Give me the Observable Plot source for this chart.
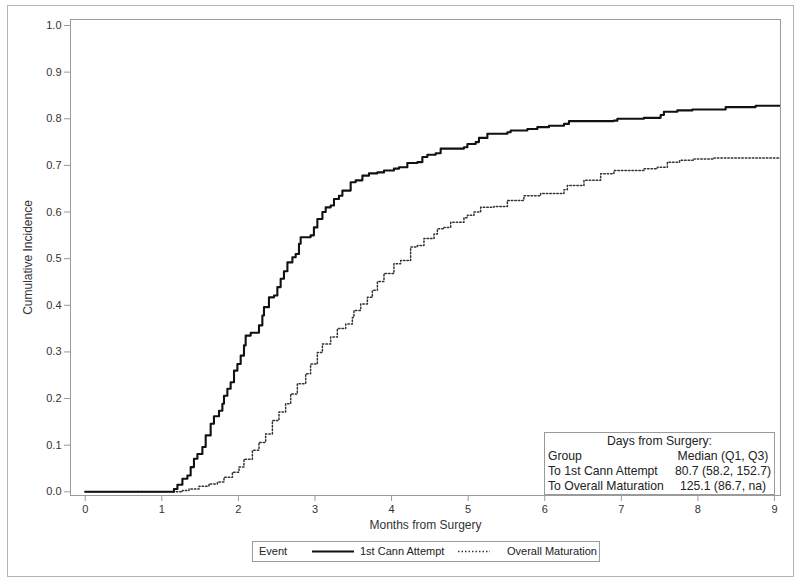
<!DOCTYPE html>
<html>
<head>
<meta charset="utf-8">
<script src="https://cdn.jsdelivr.net/npm/d3@7"></script>
<script src="https://cdn.jsdelivr.net/npm/@observablehq/plot@0.6"></script>
<style>
  body { margin: 0; background: #fff; font-family: "Liberation Sans", Arial, sans-serif; }
  #wrap { position: relative; width: 800px; height: 584px; overflow: hidden; }
  #outer { position: absolute; left: 7px; top: 5px; width: 787px; height: 572px; border: 1px solid #b4b4b4; box-sizing: border-box; }
  #chart { position: absolute; left: 0; top: 0; }
  #table { position: absolute; left: 544px; top: 432px; width: 231px; height: 63px; border: 1px solid #9a9a9a; box-sizing: border-box; background: #fff; font-size: 12.2px; color: #222; }
  #table .r { position: absolute; left: 0; width: 100%; height: 15px; line-height: 15px; white-space: nowrap; }
  #table .l { position: absolute; left: 3px; }
  #table .v { position: absolute; left: 178px; transform: translateX(-50%); }
  #legend { position: absolute; left: 252px; top: 541px; width: 348px; height: 21px; border: 1px solid #9a9a9a; box-sizing: border-box; font-size: 11px; color: #222; }
  #legend span { position: absolute; top: 3px; white-space: nowrap; }
  #legend svg { position: absolute; top: 0; left: 0; }
</style>
</head>
<body>
<div id="wrap">
  <div id="outer"></div>
  <div id="chart"></div>
  <div id="table"></div>
  <div id="legend"></div>
</div>
<script>
// ---- data ----
const seriesNames = ["1st Cann Attempt", "Overall Maturation"];

const cannMonths = [0, 1.116, 1.159, 1.204, 1.269, 1.334, 1.377, 1.420, 1.465, 1.530, 1.573, 1.638, 1.681, 1.747, 1.791, 1.812, 1.856, 1.899, 1.943, 1.987, 2.030, 2.073, 2.095, 2.161, 2.269, 2.313, 2.334, 2.399, 2.465, 2.509, 2.552, 2.595, 2.640, 2.705, 2.748, 2.791, 2.813, 2.943, 2.986, 3.031, 3.097, 3.140, 3.205, 3.248, 3.313, 3.358, 3.466, 3.531, 3.619, 3.705, 3.815, 3.901, 4.031, 4.097, 4.206, 4.337, 4.402, 4.467, 4.576, 4.641, 4.945, 4.990, 5.098, 5.141, 5.251, 5.512, 5.555, 5.773, 5.903, 6.055, 6.251, 6.316, 6.903, 6.948, 7.295, 7.513, 7.556, 7.731, 7.927, 8.362, 8.753, 9.078];
const cannCI = [0, 0, 0.006, 0.015, 0.028, 0.035, 0.053, 0.071, 0.081, 0.096, 0.121, 0.146, 0.162, 0.174, 0.189, 0.206, 0.221, 0.235, 0.260, 0.274, 0.292, 0.314, 0.335, 0.341, 0.357, 0.378, 0.396, 0.417, 0.421, 0.439, 0.457, 0.473, 0.492, 0.503, 0.510, 0.532, 0.546, 0.550, 0.567, 0.585, 0.600, 0.610, 0.614, 0.628, 0.635, 0.646, 0.664, 0.668, 0.678, 0.683, 0.685, 0.689, 0.693, 0.696, 0.705, 0.707, 0.718, 0.723, 0.726, 0.736, 0.739, 0.746, 0.750, 0.759, 0.768, 0.771, 0.775, 0.778, 0.782, 0.785, 0.789, 0.795, 0.796, 0.800, 0.802, 0.808, 0.815, 0.818, 0.820, 0.825, 0.828, 0.828];

const matMonths = [0, 1.116, 1.269, 1.355, 1.486, 1.616, 1.726, 1.812, 1.922, 2.008, 2.073, 2.183, 2.269, 2.356, 2.444, 2.530, 2.617, 2.683, 2.770, 2.879, 2.943, 3.031, 3.097, 3.205, 3.292, 3.401, 3.488, 3.509, 3.597, 3.684, 3.749, 3.815, 3.901, 4.031, 4.119, 4.249, 4.337, 4.423, 4.554, 4.598, 4.684, 4.772, 4.945, 4.990, 5.076, 5.163, 5.337, 5.512, 5.728, 5.946, 6.251, 6.295, 6.512, 6.730, 6.903, 7.295, 7.470, 7.601, 7.760, 7.948, 8.209, 9.078];
const matCI = [0, 0, 0.003, 0.006, 0.012, 0.017, 0.021, 0.031, 0.042, 0.053, 0.070, 0.089, 0.106, 0.124, 0.153, 0.171, 0.189, 0.210, 0.232, 0.253, 0.274, 0.299, 0.317, 0.332, 0.350, 0.360, 0.374, 0.389, 0.403, 0.417, 0.432, 0.451, 0.468, 0.489, 0.496, 0.525, 0.528, 0.543, 0.553, 0.564, 0.567, 0.578, 0.588, 0.593, 0.600, 0.610, 0.612, 0.625, 0.635, 0.640, 0.648, 0.657, 0.668, 0.682, 0.689, 0.693, 0.696, 0.707, 0.711, 0.714, 0.716, 0.716];

const xTicks = [0, 1, 2, 3, 4, 5, 6, 7, 8, 9];
const yTicks = [0, 0.1, 0.2, 0.3, 0.4, 0.5, 0.6, 0.7, 0.8, 0.9, 1.0];
const xLabel = "Months from Surgery";
const yLabel = "Cumulative Incidence";

const tableTitle = "Days from Surgery:";
const tableHeader = ["Group", "Median (Q1, Q3)"];
const tableGroups = ["To 1st Cann Attempt", "To Overall Maturation"];
const tableValues = ["80.7 (58.2, 152.7)", "125.1 (86.7, na)"];
const legendTitle = "Event";

// ---- build tables ----
const cann = cannMonths.map((m, i) => ({m, v: cannCI[i]}));
const mat = matMonths.map((m, i) => ({m, v: matCI[i]}));

const chart = Plot.plot({
  width: 800,
  height: 584,
  marginLeft: 70,
  marginRight: 20,
  marginTop: 19,
  marginBottom: 89,
  style: {fontFamily: "'Liberation Sans', Arial, sans-serif", fontSize: "11px", color: "#333", background: "transparent"},
  x: {domain: [-0.192, 9.078]},
  y: {domain: [-0.0079, 1.0129]},
  marks: [
    Plot.frame({stroke: "#9a9a9a"}),
    Plot.axisY({ticks: yTicks, tickFormat: d3.format(".1f"), tickSize: 6, tickPadding: 3, stroke: "#9a9a9a", fill: "#333",
      label: yLabel, labelArrow: "none", labelAnchor: "center", labelOffset: 47, fontSize: 11}),
    Plot.axisX({ticks: xTicks, tickFormat: d => String(d), tickSize: 6, tickPadding: 4, stroke: "#9a9a9a", fill: "#333",
      label: xLabel, labelArrow: "none", labelAnchor: "center", labelOffset: 33, fontSize: 11}),
    Plot.line(mat, {x: "m", y: "v", curve: "step-after", stroke: "#333", strokeWidth: 1.5, strokeDasharray: "1.5 2", clip: true}),
    Plot.line(cann, {x: "m", y: "v", curve: "step-after", stroke: "#111", strokeWidth: 2.1, clip: true})
  ]
});
document.getElementById("chart").appendChild(chart);

// axis labels: 12px, no arrows
chart.querySelectorAll("g[aria-label='x-axis label'] text").forEach(t => { t.setAttribute("font-size", "12"); t.textContent = xLabel; });
chart.querySelectorAll("g[aria-label='y-axis label'] text").forEach(t => { t.setAttribute("font-size", "12"); t.textContent = yLabel; });

// ---- inset table ----
const tbl = document.getElementById("table");
const rows = [
  {top: 1, center: tableTitle},
  {top: 16, l: tableHeader[0], v: tableHeader[1]},
  {top: 31, l: tableGroups[0], v: tableValues[0]},
  {top: 46, l: tableGroups[1], v: tableValues[1]}
];
rows.forEach(r => {
  const d = document.createElement("div");
  d.className = "r";
  d.style.top = r.top + "px";
  if (r.center) {
    d.style.textAlign = "center";
    d.textContent = r.center;
  } else {
    const a = document.createElement("span"); a.className = "l"; a.textContent = r.l;
    const b = document.createElement("span"); b.className = "v"; b.textContent = r.v;
    d.appendChild(a); d.appendChild(b);
  }
  tbl.appendChild(d);
});

// ---- legend ----
const lg = document.getElementById("legend");
lg.innerHTML = `
<svg width="348" height="21">
  <line x1="59" x2="101" y1="9.5" y2="9.5" stroke="#111" stroke-width="2.1"></line>
  <line x1="205" x2="237" y1="9.5" y2="9.5" stroke="#333" stroke-width="1.5" stroke-dasharray="1.5 2"></line>
</svg>
<span style="left:6px">${legendTitle}</span>
<span style="left:107px">${seriesNames[0]}</span>
<span style="left:254px">${seriesNames[1]}</span>`;
</script>
</body>
</html>
